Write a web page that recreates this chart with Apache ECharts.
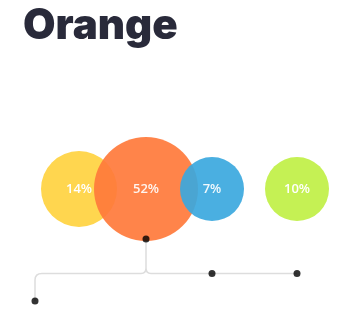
<!DOCTYPE html>
<html><head><meta charset="utf-8">
<script src="https://cdn.jsdelivr.net/npm/echarts@6/dist/echarts.min.js"></script>
<style>html,body{margin:0;padding:0;background:#fff}#c{width:355px;height:317px}</style>
</head><body><div id="c"></div>
<script>
var title = "Orange";
var categories = ["Yellow", "Orange", "Blue", "Green"];
var values = [14, 52, 7, 10];
var labels = ["14%", "52%", "7%", "10%"];

var colors = ["#FFD64F", "#FF7A3B", "#3BA8DE", "#C5F154"];
var xPos = [79, 146, 212, 297];
var sizes = [76, 104, 64, 64];
var rowY = 189;

var chart = echarts.init(document.getElementById('c'));
var scatterData = values.map(function (v, i) {
  return {
    name: categories[i],
    value: [xPos[i], rowY, v],
    symbolSize: sizes[i],
    itemStyle: { color: colors[i], opacity: i === 0 || i === 3 ? 1 : 0.92 },
    label: { formatter: labels[i] }
  };
});

var lineColor = '#dddddd';
function connectors(params, api) {
  var p = function (x, y) { return api.coord([x, y]); };
  var a = p(146, 239), b = p(146, 268), c = p(141, 273.5), d = p(151, 273.5),
      e = p(297, 273.5), f = p(42, 273.5), g = p(35, 280), h = p(35, 301);
  return {
    type: 'group',
    children: [
      { type: 'path', shape: { pathData:
        'M' + a[0] + ' ' + a[1] + ' L' + b[0] + ' ' + b[1] +
        ' Q' + b[0] + ' ' + c[1] + ' ' + c[0] + ' ' + c[1] +
        ' L' + f[0] + ' ' + f[1] +
        ' Q' + g[0] + ' ' + f[1] + ' ' + g[0] + ' ' + g[1] +
        ' L' + h[0] + ' ' + h[1] +
        ' M' + b[0] + ' ' + b[1] +
        ' Q' + b[0] + ' ' + d[1] + ' ' + d[0] + ' ' + d[1] +
        ' L' + e[0] + ' ' + e[1] },
        style: { stroke: lineColor, lineWidth: 1.5, fill: null } }
    ]
  };
}

chart.setOption({
  animation: false,
  title: {
    text: title, left: 18, top: 0,
    textStyle: { fontFamily: 'Inter', fontWeight: 900, fontSize: 42, color: '#292a3a' }
  },
  grid: { left: 0, right: 0, top: 0, bottom: 0 },
  xAxis: { type: 'value', min: 0, max: 355, show: false },
  yAxis: { type: 'value', min: 0, max: 317, inverse: true, show: false },
  series: [
    {
      type: 'custom', renderItem: connectors, data: [[0, 0]], silent: true, z: 1
    },
    {
      type: 'scatter', z: 2,
      data: scatterData,
      label: {
        show: true, position: 'inside', color: '#ffffff',
        fontFamily: 'Open Sans', fontWeight: 600, fontSize: 13
      }
    },
    {
      type: 'scatter', z: 3, symbolSize: 7,
      itemStyle: { color: '#000000' },
      data: [[146, 239], [212, 273.5], [297, 273.5], [35, 301]]
    }
  ]
});
</script></body></html>
